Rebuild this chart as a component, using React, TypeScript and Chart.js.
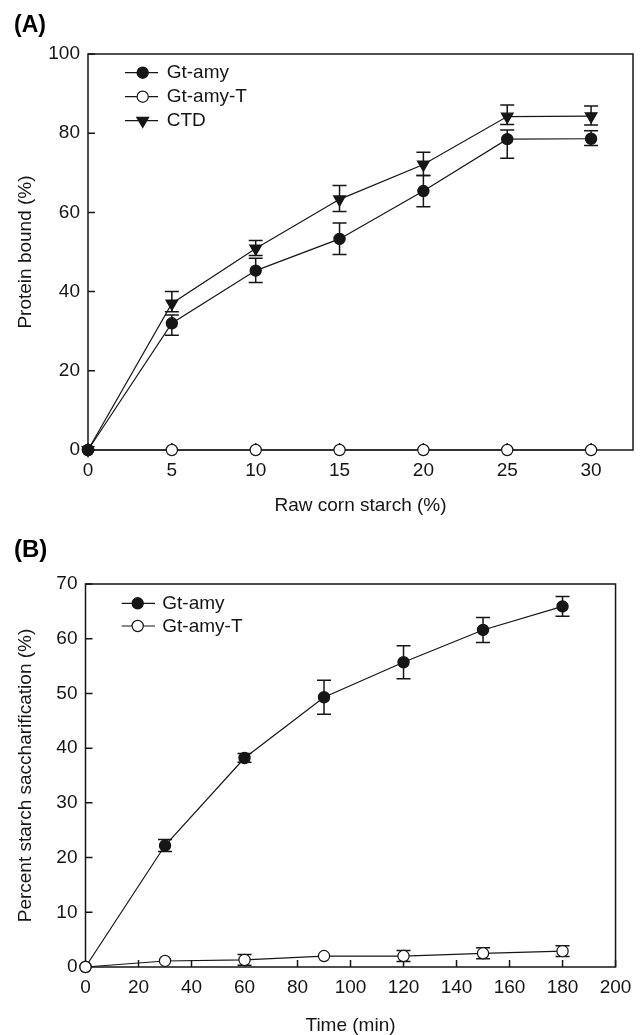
import React, { useEffect, useRef } from "react";
import { Chart, registerables } from "chart.js";

Chart.register(...registerables);

const FONT = '"Liberation Sans", Arial, Helvetica, sans-serif';
const INK = "#161616";

// ---------- Panel A data ----------
const starchPct = [0, 5, 10, 15, 20, 25, 30];
const boundGtAmy = [0, 32.0, 45.3, 53.3, 65.4, 78.5, 78.6];
const boundGtAmyUp = [0, 2.1, 3.1, 4.0, 3.9, 2.3, 2.0];
const boundGtAmyDown = [0, 3.0, 3.0, 3.9, 4.0, 4.8, 1.7];
const boundGtAmyT = [0, 0, 0, 0, 0, 0, 0];
const boundCTD = [0, 37.0, 50.9, 63.3, 72.1, 84.2, 84.3];
const boundCTDUp = [0, 3.0, 2.0, 3.5, 3.1, 2.9, 2.6];
const boundCTDDown = [0, 2.1, 1.8, 3.1, 2.8, 2.0, 2.2];
const aXTicks = [0, 5, 10, 15, 20, 25, 30];
const aYTicks = [0, 20, 40, 60, 80, 100];

// ---------- Panel B data ----------
const timeMin = [0, 30, 60, 90, 120, 150, 180];
const saccGtAmy = [0, 22.2, 38.2, 49.3, 55.7, 61.6, 65.9];
const saccGtAmyErr = [0, 1.1, 0.8, 3.1, 3.0, 2.3, 1.8];
const saccGtAmyT = [0, 1.1, 1.3, 2.0, 2.0, 2.5, 2.9];
const saccGtAmyTErr = [0, 0, 1.0, 0, 1.0, 1.0, 1.0];
const bXTicks = [0, 20, 40, 60, 80, 100, 120, 140, 160, 180, 200];
const bYTicks = [0, 10, 20, 30, 40, 50, 60, 70];

const xy = (xs: number[], ys: number[]) => xs.map((x, i) => ({ x, y: ys[i] }));

function drawMarker(ctx: CanvasRenderingContext2D, style: string, x: number, y: number, r: number, fill: string) {
  ctx.beginPath();
  if (style === "triangle") {
    ctx.moveTo(x, y + r);
    ctx.lineTo(x - 0.866 * r, y - 0.5 * r);
    ctx.lineTo(x + 0.866 * r, y - 0.5 * r);
    ctx.closePath();
  } else {
    ctx.arc(x, y, r, 0, Math.PI * 2);
  }
  ctx.fillStyle = fill;
  ctx.fill();
  ctx.lineWidth = 1.2;
  ctx.strokeStyle = INK;
  ctx.stroke();
}

const framePlugin = {
  id: "sketchFrame",
  beforeDatasetsDraw(chart: any, _a: any, opts: any) {
    const ctx = chart.ctx as CanvasRenderingContext2D;
    const { left, right, top, bottom } = chart.chartArea;
    const xs = chart.scales.x;
    const ys = chart.scales.y;
    const tl = opts.tickLen || 7;
    ctx.save();
    ctx.strokeStyle = INK;
    ctx.lineWidth = 1.5;
    ctx.strokeRect(left, top, right - left, bottom - top);
    ctx.beginPath();
    xs.ticks.forEach((t: any) => {
      const px = xs.getPixelForValue(t.value);
      ctx.moveTo(px, bottom);
      ctx.lineTo(px, bottom - tl);
    });
    ys.ticks.forEach((t: any) => {
      const py = ys.getPixelForValue(t.value);
      ctx.moveTo(left, py);
      ctx.lineTo(left + tl, py);
    });
    ctx.stroke();
    // error bars
    const cap = opts.cap || 7;
    ctx.lineWidth = 1.5;
    chart.data.datasets.forEach((ds: any) => {
      if (!ds.errUp) return;
      ds.data.forEach((p: any, i: number) => {
        const up = ds.errUp[i] || 0;
        const dn = ds.errDown[i] || 0;
        if (!up && !dn) return;
        const px = xs.getPixelForValue(p.x);
        const yT = ys.getPixelForValue(p.y + up);
        const yB = ys.getPixelForValue(p.y - dn);
        ctx.beginPath();
        ctx.moveTo(px, yT);
        ctx.lineTo(px, yB);
        ctx.moveTo(px - cap, yT);
        ctx.lineTo(px + cap, yT);
        ctx.moveTo(px - cap, yB);
        ctx.lineTo(px + cap, yB);
        ctx.stroke();
      });
    });
    ctx.restore();
  },
};

const legendPlugin = {
  id: "sketchLegend",
  afterDatasetsDraw(chart: any, _a: any, opts: any) {
    const ctx = chart.ctx as CanvasRenderingContext2D;
    ctx.save();
    chart.data.datasets.forEach((ds: any, i: number) => {
      const y = opts.y0 + i * opts.dy;
      ctx.beginPath();
      ctx.strokeStyle = INK;
      ctx.lineWidth = 1.2;
      ctx.moveTo(opts.x1, y);
      ctx.lineTo(opts.x2, y);
      ctx.stroke();
      drawMarker(ctx, ds.pointStyle, opts.mx, y, ds.pointStyle === "triangle" ? 6.8 : 5.6, ds.pointBackgroundColor);
      ctx.fillStyle = INK;
      ctx.font = `19px ${FONT}`;
      ctx.textBaseline = "middle";
      ctx.textAlign = "left";
      ctx.fillText(ds.label, opts.tx, y + 0.5);
    });
    // panel label
    ctx.font = `bold ${opts.labelSize}px ${FONT}`;
    ctx.textBaseline = "alphabetic";
    ctx.fillStyle = "#000";
    ctx.fillText(opts.panel, opts.px, opts.py);
    ctx.restore();
  },
};

const tickFont = { family: FONT, size: 19 };
const titleFont = { family: FONT, size: 19, lineHeight: 1.2 };

function lineDs(label: string, xs: number[], ys: number[], up: number[] | null, dn: number[] | null, style: string, fill: string, order: number) {
  return {
    label,
    data: xy(xs, ys),
    errUp: up,
    errDown: dn,
    borderColor: INK,
    borderWidth: 1.2,
    tension: 0,
    fill: false,
    pointStyle: style,
    pointRotation: style === "triangle" ? 180 : 0,
    pointRadius: style === "triangle" ? 6.8 : 5.6,
    pointBackgroundColor: fill,
    pointBorderColor: INK,
    pointBorderWidth: 1.2,
    clip: false,
    order,
  };
}

function configA(): any {
  return {
    type: "line",
    data: {
      datasets: [
        lineDs("Gt-amy", starchPct, boundGtAmy, boundGtAmyUp, boundGtAmyDown, "circle", INK, 0),
        lineDs("Gt-amy-T", starchPct, boundGtAmyT, null, null, "circle", "#ffffff", 1),
        lineDs("CTD", starchPct, boundCTD, boundCTDUp, boundCTDDown, "triangle", INK, 2),
      ],
    },
    options: {
      responsive: false,
      animation: false,
      events: [],
      layout: { padding: { top: 54, right: 7, left: 0, bottom: 0 } },
      scales: {
        x: {
          type: "linear",
          min: 0,
          max: 32.5,
          afterBuildTicks: (s: any) => {
            s.ticks = aXTicks.map((v) => ({ value: v }));
          },
          afterFit: (s: any) => {
            s.height = 70;
          },
          grid: { display: false, drawTicks: false },
          border: { display: false },
          ticks: { font: tickFont, color: INK, padding: 9.6, maxRotation: 0, autoSkip: false },
          title: { display: true, text: "Raw corn starch (%)", font: titleFont, color: INK, padding: { top: 0, bottom: 3 } },
        },
        y: {
          type: "linear",
          min: 0,
          max: 100,
          afterBuildTicks: (s: any) => {
            s.ticks = aYTicks.map((v) => ({ value: v }));
          },
          afterFit: (s: any) => {
            s.width = 88;
          },
          grid: { display: false, drawTicks: false },
          border: { display: false },
          ticks: { font: tickFont, color: INK, padding: 8, autoSkip: false },
          title: { display: true, text: "Protein bound (%)", font: titleFont, color: INK, padding: { top: 14.6, bottom: 0 } },
        },
      },
      plugins: {
        legend: { display: false },
        tooltip: { enabled: false },
        sketchFrame: { tickLen: 7, cap: 7 },
        sketchLegend: { x1: 125, x2: 158, mx: 142.7, tx: 166.7, y0: 72.7, dy: 24, panel: "(A)", px: 14, py: 32, labelSize: 23 },
      },
    },
    plugins: [framePlugin, legendPlugin],
  };
}

function configB(): any {
  return {
    type: "line",
    data: {
      datasets: [
        lineDs("Gt-amy", timeMin, saccGtAmy, saccGtAmyErr, saccGtAmyErr, "circle", INK, 1),
        lineDs("Gt-amy-T", timeMin, saccGtAmyT, saccGtAmyTErr, saccGtAmyTErr, "circle", "#ffffff", 0),
      ],
    },
    options: {
      responsive: false,
      animation: false,
      events: [],
      layout: { padding: { top: 64, right: 24.5, left: 0, bottom: 0 } },
      scales: {
        x: {
          type: "linear",
          min: 0,
          max: 200,
          afterBuildTicks: (s: any) => {
            s.ticks = bXTicks.map((v) => ({ value: v }));
          },
          afterFit: (s: any) => {
            s.height = 68;
          },
          grid: { display: false, drawTicks: false },
          border: { display: false },
          ticks: { font: tickFont, color: INK, padding: 9.6, maxRotation: 0, autoSkip: false },
          title: { display: true, text: "Time (min)", font: { family: FONT, size: 19, lineHeight: 1 }, color: INK, padding: { top: 0, bottom: 0 } },
        },
        y: {
          type: "linear",
          min: 0,
          max: 70,
          afterBuildTicks: (s: any) => {
            s.ticks = bYTicks.map((v) => ({ value: v }));
          },
          afterFit: (s: any) => {
            s.width = 85.5;
          },
          grid: { display: false, drawTicks: false },
          border: { display: false },
          ticks: { font: tickFont, color: INK, padding: 8, autoSkip: false },
          title: { display: true, text: "Percent starch saccharification (%)", font: titleFont, color: INK, padding: { top: 14.6, bottom: 0 } },
        },
      },
      plugins: {
        legend: { display: false },
        tooltip: { enabled: false },
        sketchFrame: { tickLen: 7, cap: 7 },
        sketchLegend: { x1: 121.7, x2: 155, mx: 137.7, tx: 162.3, y0: 83.3, dy: 22.7, panel: "(B)", px: 14, py: 37, labelSize: 24 },
      },
    },
    plugins: [framePlugin, legendPlugin],
  };
}

function ChartCanvas({ make, top, height }: { make: () => any; top: number; height: number }) {
  const ref = useRef<HTMLCanvasElement>(null);
  useEffect(() => {
    if (!ref.current) return;
    const chart = new Chart(ref.current, make());
    return () => chart.destroy();
  }, [make]);
  return (
    <canvas
      ref={ref}
      width={641}
      height={height}
      style={{ position: "absolute", left: 0, top, width: 641, height, display: "block" }}
    />
  );
}

export default function App() {
  return (
    <div style={{ position: "absolute", left: 0, top: 0, width: 641, height: 1035, overflow: "hidden", background: "#ffffff" }}>
      <ChartCanvas make={configA} top={0} height={520} />
      <ChartCanvas make={configB} top={520} height={515} />
    </div>
  );
}
